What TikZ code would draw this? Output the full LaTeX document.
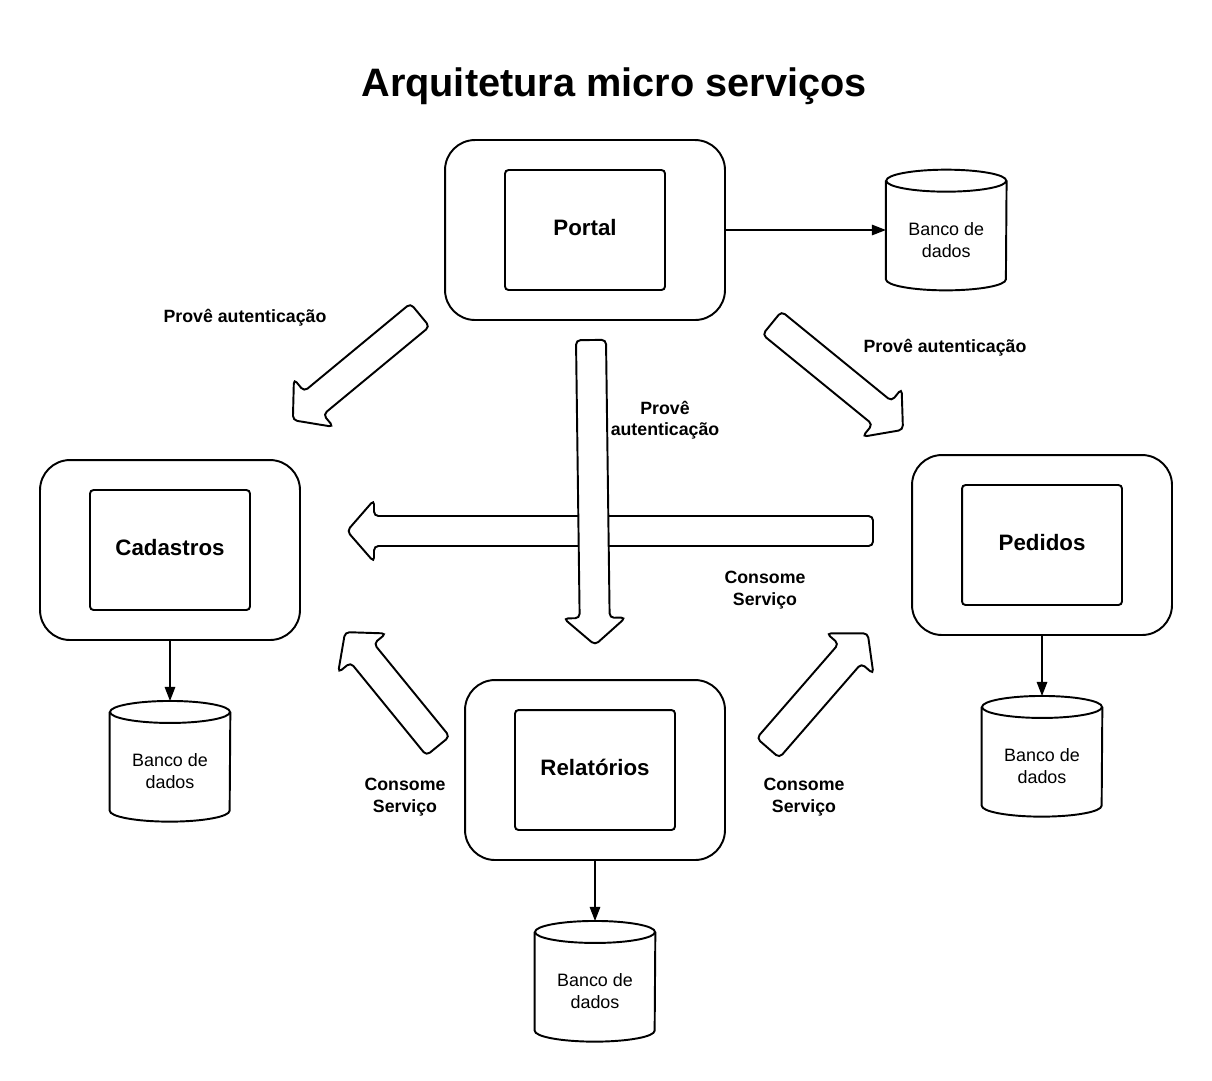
\documentclass[tikz,border=0pt]{standalone}
\usepackage{fontspec}
\setmainfont{Liberation Sans}
\usetikzlibrary{positioning,arrows.meta}

% seta larga: cauda, angulo, comprimento (em px)
\newcommand{\setalarga}[3]{%
	\begin{scope}[shift={(#1)},rotate=#2]
		\draw[seta] (0,-15) -- ({#3-27},-15) -- ({#3-27},-31) -- (#3,0)
		-- ({#3-27},31) -- ({#3-27},15) -- (0,15) -- cycle;
	\end{scope}}
% cilindro do banco de dados em volta de um no
\newcommand{\cilindro}[1]{%
	\draw[linha] ([yshift=-0.22cm]#1.north west) -- ([yshift=0.22cm]#1.south west)
	arc[start angle=180, end angle=360, x radius=1.2cm, y radius=0.22cm]
	-- ([yshift=-0.22cm]#1.north east);
	\draw[linha] ([yshift=-0.22cm]#1.north) ellipse[x radius=1.2cm, y radius=0.22cm];}

\begin{document}
\begin{tikzpicture}[
		x=0.02cm, y=-0.02cm,
		caixa/.style={draw, fill=white, line width=1.1pt, rounded corners=0.6cm,
				minimum width=5.2cm, minimum height=3.6cm},
		modulo/.style={draw, fill=white, line width=1.1pt, rounded corners=2pt,
				minimum width=3.2cm, minimum height=2.4cm, text depth=0.1cm,
				font=\fontsize{12.7}{15}\selectfont\bfseries},
		banco/.style={minimum width=2.4cm, minimum height=2.4cm, inner sep=0pt,
				label={[align=center, yshift=-0.2cm, font=\fontsize{10.2}{12.2}\selectfont]center:{Banco de\\dados}}},
		linha/.style={line width=1.1pt},
		seta/.style={draw, fill=white, line width=1.1pt, rounded corners=2.5pt},
		liga/.style={-{Triangle[length=8pt,width=6pt]}, line width=0.8pt},
		rotulo/.style={align=center, font=\fontsize{10.1}{12.2}\selectfont\bfseries},
		titulo/.style={font=\fontsize{22.6}{27}\selectfont\bfseries},
	]
	\useasboundingbox (0,0) rectangle (1212,1080);
	\node[titulo] (titulo) at (614,86) {Arquitetura micro serviços};

	% servicos
	\node[caixa, minimum width=5.6cm] (portal) at (585,230) {};
	\node[modulo] (portalM) at (portal) {Portal};
	\node[caixa] (cad) at (170,550) {};
	\node[modulo] (cadM) at (cad) {Cadastros};
	\node[caixa] (ped) at (1042,545) {};
	\node[modulo] (pedM) at (ped) {Pedidos};
	\node[caixa] (rel) at (595,770) {};
	\node[modulo] (relM) at (rel) {Relatórios};

	% bancos de dados
	\node[banco, right=3.2cm of portal] (dbportal) {};
	\node[banco, below=1.2cm of cad] (dbcad) {};
	\node[banco, below=1.2cm of ped] (dbped) {};
	\node[banco, below=1.2cm of rel] (dbrel) {};
	\foreach \s in {portal, cad, ped, rel}{\cilindro{db\s}}
	\draw[liga] (portal.east) -- (dbportal.west);
	\draw[liga] (cad.south) -- (dbcad.north);
	\draw[liga] (ped.south) -- (dbped.north);
	\draw[liga] (rel.south) -- (dbrel.north);

	% setas largas
	\setalarga{420,315}{219.6}{165}
	\setalarga{772,323}{-39.2}{169}
	\setalarga{873,531}{180}{526}
	\setalarga{591,340}{-89.25}{305}
	\setalarga{438,746}{129.2}{147}
	\setalarga{768,748}{49}{152}

	% rotulos
	\node[rotulo] (autA) at (245,318) {Provê autenticação};
	\node[rotulo] (autB) at (945,348) {Provê autenticação};
	\node[rotulo] (autC) at (665,420) {Provê\\autenticação};
	\node[rotulo] (conA) at (765,590) {Consome\\Serviço};
	\node[rotulo] (conB) at (405,797) {Consome\\Serviço};
	\node[rotulo] (conC) at (804,797) {Consome\\Serviço};
\end{tikzpicture}
\end{document}
